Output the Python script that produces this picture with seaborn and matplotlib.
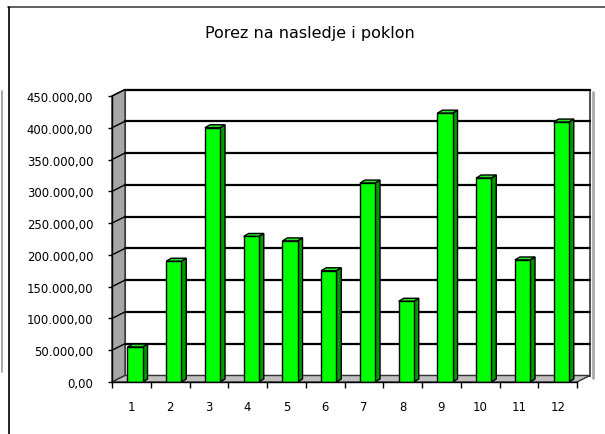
import seaborn as sns
import matplotlib.pyplot as plt
from matplotlib.patches import Polygon, Rectangle
from matplotlib.lines import Line2D

sns.set_style("white")
plt.rcParams["font.family"] = ["DejaVu Sans"]
plt.rcParams["text.color"] = "black"
plt.rcParams["xtick.color"] = "black"
plt.rcParams["ytick.color"] = "black"

# Data
months = ["1", "2", "3", "4", "5", "6", "7", "8", "9", "10", "11", "12"]
values = [55000, 190000, 400000, 229000, 222000, 175000,
          313000, 127000, 423000, 321000, 192000, 409000]
title = "Porez na nasledje i poklon"
y_ticks = list(range(0, 450001, 50000))


def fmt(v):
    return f"{v:,.2f}".replace(",", " ").replace(".", ",").replace(" ", ".")


fig = plt.figure(figsize=(6.05, 4.35), dpi=100)
ax = fig.add_axes([112 / 605, 52 / 435, 465 / 605, 286 / 435])
ax.set_facecolor("none")

sns.barplot(x=months, y=values, color="#00ff00", saturation=1, width=0.39,
            edgecolor="black", linewidth=1, ax=ax, zorder=3)
bars = list(ax.patches)

ax.set_xlim(-0.5, 11.5)
ax.set_ylim(0, 450000)

# pseudo-3D depth of the walls, in data units
px_x = 1 / 38.75
px_y = 450000 / 286
dx, dy = 13 * px_x, 6.5 * px_y

# back wall, left wall, floor
ax.add_patch(Rectangle((-0.5 + dx, dy), 12, 450000, facecolor="white",
                       edgecolor="#555555", lw=1.5, zorder=0.2, clip_on=False))
ax.add_line(Line2D([11.5 + dx + 2.5 * px_x] * 2, [dy - 2 * px_y, 450000 + dy - 2 * px_y],
                   color="#aaaaaa", lw=2, zorder=0.1, clip_on=False))
ax.add_patch(Polygon([(-0.5, 0), (-0.5, 450000), (-0.5 + dx, 450000 + dy), (-0.5 + dx, dy)],
                     facecolor="#a6a6a6", edgecolor="#333333", lw=1, zorder=0.3, clip_on=False))
ax.add_patch(Polygon([(-0.5, 0), (11.5, 0), (11.5 + dx, dy), (-0.5 + dx, dy)],
                     facecolor="#c0c0c0", edgecolor="#333333", lw=1, zorder=0.3, clip_on=False))

for v in y_ticks[1:]:
    ax.add_line(Line2D([-0.5 + dx, 11.5 + dx], [v + dy, v + dy], color="black",
                       lw=1.6, zorder=0.5, clip_on=False))
    ax.add_line(Line2D([-0.5, -0.5 + dx], [v, v + dy], color="black",
                       lw=1, zorder=0.5, clip_on=False))

# extrude the bars
shift = 3.6 * px_x
bdx, bdy = 5 * px_x, 3 * px_y
for p in bars:
    p.set_x(p.get_x() + shift)
    x0 = p.get_x()
    x1 = x0 + p.get_width()
    h = p.get_height()
    ax.add_patch(Polygon([(x1, 0), (x1, h), (x1 + bdx, h + bdy), (x1 + bdx, bdy)],
                         facecolor="#009a00", edgecolor="black", lw=1, zorder=2.9, clip_on=False))
    ax.add_patch(Polygon([(x0, h), (x1, h), (x1 + bdx, h + bdy), (x0 + bdx, h + bdy)],
                         facecolor="#22e622", edgecolor="black", lw=1, zorder=2.9, clip_on=False))

# axes and ticks
for s in ["top", "right"]:
    ax.spines[s].set_visible(False)
for s in ["left", "bottom"]:
    ax.spines[s].set_color("black")
    ax.spines[s].set_linewidth(1)
    ax.spines[s].set_zorder(4)

ax.set_yticks(y_ticks)
ax.set_yticklabels([fmt(v) for v in y_ticks])
ax.set_xticks(range(len(months)))
ax.set_xticklabels(months)
ax.set_xticks([i - 0.5 for i in range(len(months) + 1)], minor=True)
ax.tick_params(axis="y", direction="out", length=3, width=1, color="black",
               labelsize=8.4, pad=10.5, left=True, labelcolor="black")
ax.tick_params(axis="x", which="major", length=0, labelsize=8.4, pad=13,
               labelcolor="black")
ax.tick_params(axis="x", which="minor", direction="out", length=4, width=1,
               color="black", bottom=True)
ax.set_xlabel("")
ax.set_ylabel("")

fig.text(0.512, 0.922, title, ha="center", va="center", fontsize=11.5,
         color="black")

# frame lines of the sheet
fig.add_artist(Line2D([8 / 605, 1], [1 - 8 / 435] * 2, color="#444444", lw=1.2))
fig.add_artist(Line2D([9 / 605] * 2, [0, 1 - 8 / 435], color="black", lw=1.2))
fig.add_artist(Line2D([2 / 605] * 2, [1 - 92 / 435, 1 - 373 / 435], color="#999999", lw=1.2))

plt.savefig("out.png", dpi=100)
plt.close()
